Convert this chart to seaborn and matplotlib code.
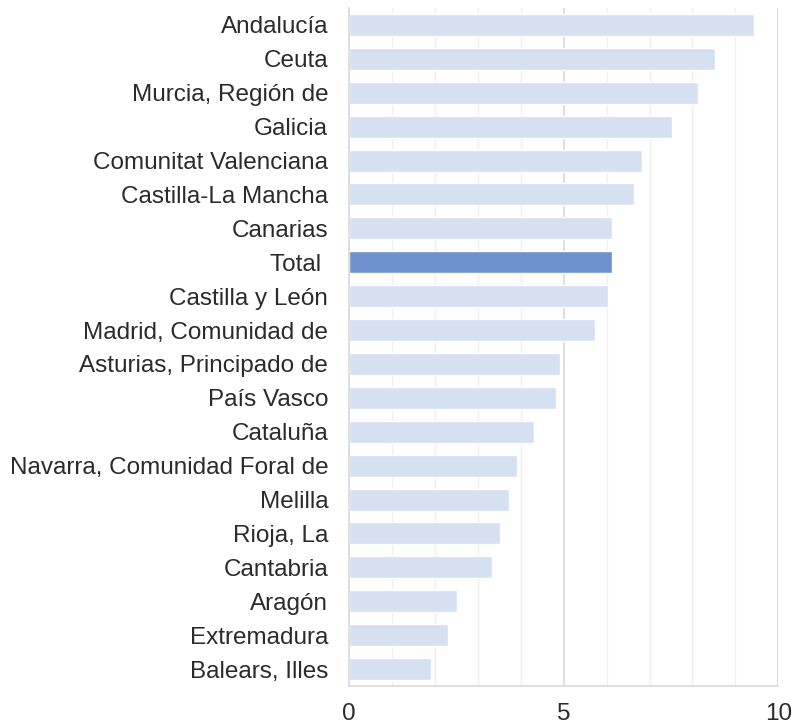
import pandas as pd
import matplotlib.pyplot as plt
import seaborn as sns
from matplotlib.ticker import MultipleLocator

regions = ['Andalucía', 'Ceuta', 'Murcia, Región de', 'Galicia', 'Comunitat Valenciana',
           'Castilla-La Mancha', 'Canarias', 'Total ', 'Castilla y León',
           'Madrid, Comunidad de', 'Asturias, Principado de', 'País Vasco', 'Cataluña',
           'Navarra, Comunidad Foral de', 'Melilla', 'Rioja, La', 'Cantabria', 'Aragón',
           'Extremadura', 'Balears, Illes']
values = [9.44, 8.53, 8.13, 7.53, 6.83, 6.64, 6.13, 6.13, 6.04, 5.73, 4.92, 4.83, 4.31,
          3.92, 3.73, 3.52, 3.33, 2.52, 2.31, 1.91]
kind = ['Total' if r.strip() == 'Total' else 'Región' for r in regions]

df = pd.DataFrame({'region': regions, 'value': values, 'kind': kind})

sns.set_style('white')
plt.rcParams['font.family'] = ['Liberation Sans', 'DejaVu Sans']

fig = plt.figure(figsize=(7.95, 7.24), dpi=100)
ax = fig.add_axes([0.439, 0.0525, 0.540, 0.9365])

sns.barplot(data=df, x='value', y='region', hue='kind',
            palette={'Región': '#D5E0F0', 'Total': '#6F92CF'}, saturation=1,
            dodge=False, legend=False, width=0.65, ax=ax)

ax.set_xlim(0, 10)
ax.set_ylim(19.5, -0.5)
ax.xaxis.set_major_locator(MultipleLocator(5))
ax.xaxis.set_minor_locator(MultipleLocator(1))
ax.grid(axis='x', which='minor', color='#EFEFEF', linewidth=1)
ax.grid(axis='x', which='major', color='#D9D9D9', linewidth=1.2)
ax.set_axisbelow(True)

for s in ['top', 'right']:
    ax.spines[s].set_visible(False)
for s in ['left', 'bottom']:
    ax.spines[s].set_color('#D9D9D9')
    ax.spines[s].set_linewidth(1.2)

ax.tick_params(axis='both', which='both', length=0, labelsize=17.5, colors='#2b2b2b')
ax.tick_params(axis='y', pad=15)
ax.tick_params(axis='x', pad=12)
ax.set_xlabel('')
ax.set_ylabel('')

plt.savefig('out.png', dpi=100)
